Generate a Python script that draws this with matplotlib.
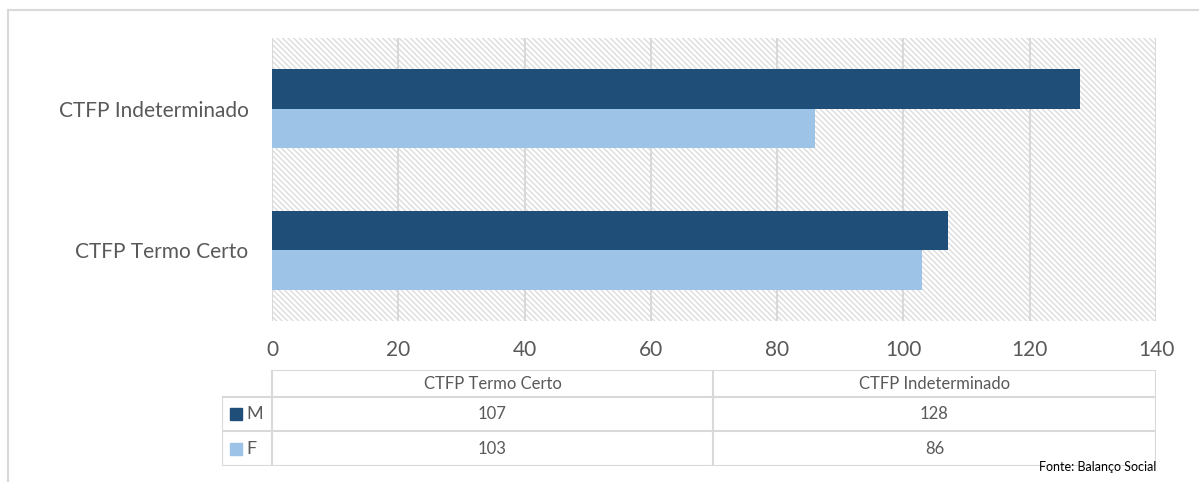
import matplotlib.pyplot as plt
from matplotlib.lines import Line2D
from matplotlib.patches import Rectangle

plt.rcParams['font.family'] = ['Lato', 'DejaVu Sans']
plt.rcParams['hatch.color'] = '#dcdcdc'
plt.rcParams['hatch.linewidth'] = 1.0

# data
categorias = ["CTFP Termo Certo", "CTFP Indeterminado"]
series = ["M", "F"]
valores_m = [107, 128]
valores_f = [103, 86]
cores = ["#1f4e79", "#9dc3e6"]
xticks = [0, 20, 40, 60, 80, 100, 120, 140]

W, H = 1199, 482
fig = plt.figure(figsize=(W / 100, H / 100), dpi=100)

def box(x0, y0, x1, y1):
    # pixel box (top-left origin) -> figure fraction
    return [x0 / W, 1 - y1 / H, (x1 - x0) / W, (y1 - y0) / H]

# outer frame lines
fig.add_artist(Line2D([8 / W, 8 / W], [0, 1 - 10 / H], color='#d9d9d9', lw=1.5))
fig.add_artist(Line2D([8 / W, 1], [1 - 10 / H, 1 - 10 / H], color='#d9d9d9', lw=1.5))

ax = fig.add_axes(box(272, 38, 1156, 321))
ax.add_patch(Rectangle((0, 0), 1, 1, transform=ax.transAxes, facecolor='white',
                       hatch='\\\\\\\\\\\\', edgecolor='#dcdcdc', lw=0, zorder=0))
ypos = list(range(len(categorias)))
h = 0.28
ax.barh([y + h / 2 for y in ypos], valores_m, height=h, color=cores[0], zorder=3)
ax.barh([y - h / 2 for y in ypos], valores_f, height=h, color=cores[1], zorder=3)
ax.set_xlim(0, 140)
ax.set_ylim(-0.5, 1.5)
ax.set_xticks(xticks)
ax.set_xticklabels([str(t) for t in xticks], fontsize=15, color='#595959')
ax.set_yticks(ypos)
ax.set_yticklabels(categorias, fontsize=15, color='#595959')
ax.tick_params(length=0, pad=14, axis='x')
ax.tick_params(length=0, pad=17, axis='y')
ax.grid(axis='x', color='#d9d9d9', lw=1.5, zorder=1)
for s in ax.spines.values():
    s.set_visible(False)

# data table
tb = fig.add_axes(box(222, 370, 1156, 466))
tb.set_xlim(222, 1156)
tb.set_ylim(466, 370)
tb.axis('off')
lc = '#d9d9d9'
cols = [272, 713, 1156]
rows = [370, 397, 431, 466]
tb.plot([272, 1156], [370, 370], color=lc, lw=1.5)
for y in rows[1:]:
    tb.plot([222, 1156], [y, y], color=lc, lw=1.5)
tb.plot([222, 222], [397, 466], color=lc, lw=1.5)
for x in cols:
    tb.plot([x, x], [370, 466], color=lc, lw=1.5)
for i, c in enumerate(categorias):
    xc = (cols[i] + cols[i + 1]) / 2
    tb.text(xc, 384, c, ha='center', va='center', fontsize=12, color='#595959')
    for j, vals in enumerate([valores_m, valores_f]):
        yc = (rows[j + 1] + rows[j + 2]) / 2
        tb.text(xc, yc, str(vals[i]), ha='center', va='center', fontsize=12, color='#595959')
for j, s in enumerate(series):
    yc = (rows[j + 1] + rows[j + 2]) / 2
    tb.add_patch(Rectangle((230, yc - 6), 12, 12, color=cores[j]))
    tb.text(246, yc, s, ha='left', va='center', fontsize=13, color='#595959')

fig.text(1156 / W, 1 - 467 / H, "Fonte: Balanço Social", ha='right', va='center',
         fontsize=9, color='black')

fig.savefig("out.png", dpi=100)
